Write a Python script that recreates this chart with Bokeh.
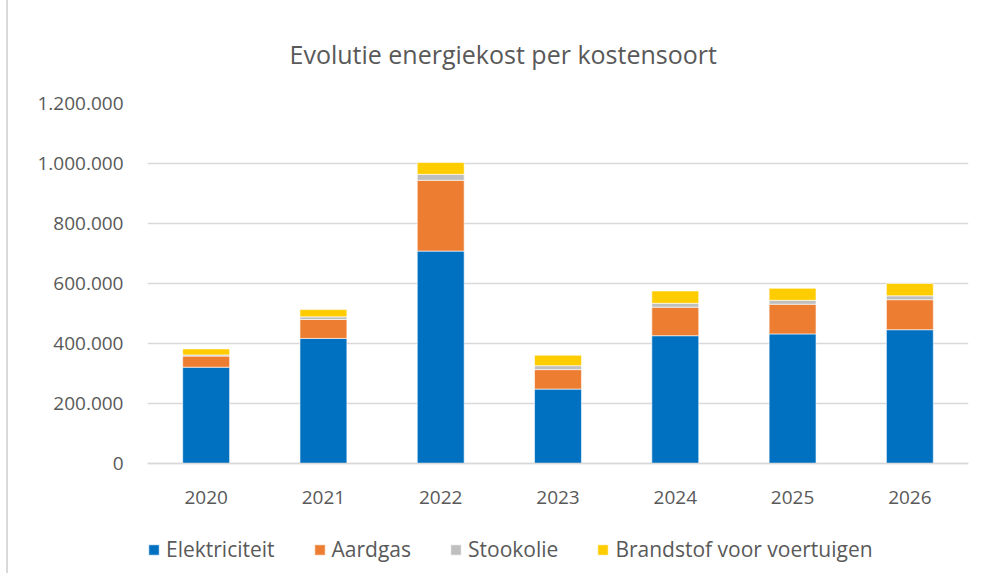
from bokeh.plotting import figure
from bokeh.models import FixedTicker, Legend, LegendItem, ColumnDataSource
from bokeh.embed import file_html
from bokeh.resources import INLINE

years = ["2020", "2021", "2022", "2023", "2024", "2025", "2026"]
series = ["Elektriciteit", "Aardgas", "Stookolie", "Brandstof voor voertuigen"]
elektriciteit = [321000, 417000, 708000, 248000, 426000, 432000, 446000]
aardgas = [37000, 63000, 236000, 65000, 95000, 99000, 100000]
stookolie = [4000, 9000, 20000, 13000, 13000, 13000, 13000]
brandstof = [20000, 24000, 39000, 35000, 41000, 40000, 41000]
y_ticks = [0, 200000, 400000, 600000, 800000, 1000000, 1200000]
y_tick_labels = ["0", "200.000", "400.000", "600.000", "800.000", "1.000.000", "1.200.000"]
colors = ["#0070C0", "#ED7D31", "#BFBFBF", "#FFCC00"]

FONT = "Open Sans"
TXT = "#595959"

# frame extends below zero to host axis labels and legend (layout only)
Y_TOP = 1200000
Y_BOTTOM = -Y_TOP * 110 / 360

data = {"year": years, series[0]: elektriciteit, series[1]: aardgas,
        series[2]: stookolie, series[3]: brandstof}
src = ColumnDataSource(data)

p = figure(x_range=years, y_range=(Y_BOTTOM, Y_TOP),
           frame_width=821, frame_height=470,
           output_backend="svg", toolbar_location=None,
           min_border_left=139, min_border_right=17,
           min_border_top=103, min_border_bottom=0)
p.styles = {"margin-left": "6px", "border-left": "2px solid #D9D9D9"}

rs = p.vbar_stack(series, x="year", width=0.4, color=colors, source=src,
                  line_color="white", line_width=0.6)

p.title.text = "Evolutie energiekost per kostensoort"
p.title.text_font = FONT
p.title.text_font_style = "normal"
p.title.text_font_size = "25px"
p.title.text_color = TXT
p.title.align = "left"
p.title.offset = 142
p.title.standoff = 66

p.outline_line_color = None
p.xgrid.grid_line_color = None
p.ygrid.grid_line_color = "#D9D9D9"
p.ygrid.grid_line_width = 1.5
p.yaxis.ticker = FixedTicker(ticks=y_ticks)
p.ygrid.ticker = FixedTicker(ticks=y_ticks)
p.yaxis.major_label_overrides = {t: l for t, l in zip(y_ticks, y_tick_labels)}

for ax in (p.xaxis, p.yaxis):
    ax.axis_line_color = None
    ax.major_tick_line_color = None
    ax.minor_tick_line_color = None
    ax.major_label_text_font = FONT
    ax.major_label_text_font_size = "19px"
    ax.major_label_text_color = TXT
p.xaxis.fixed_location = 0
p.xaxis.axis_line_color = "#D9D9D9"
p.xaxis.axis_line_width = 1.5
p.yaxis.major_label_standoff = 18
p.xaxis.major_label_standoff = 21

legend = Legend(items=[LegendItem(label=s, renderers=[r]) for s, r in zip(series, rs)],
                orientation="horizontal", location=(0, 10),
                glyph_width=13, glyph_height=13, label_standoff=6, spacing=38,
                padding=0, margin=0, border_line_color=None,
                background_fill_alpha=0,
                label_text_font=FONT, label_text_font_size="21px",
                label_text_color=TXT)
p.add_layout(legend, "center")

open("out.html", "w").write(file_html(p, INLINE))
